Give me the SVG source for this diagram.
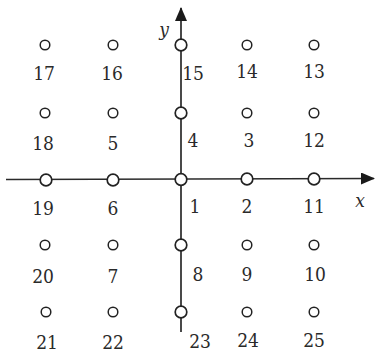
<svg xmlns="http://www.w3.org/2000/svg" width="375" height="353" viewBox="0 0 375 353">
<style>
.n circle{fill:#fff;stroke:#222;stroke-width:1.5}
.n .a{stroke-width:1.7}
.c line{stroke:#2a2a2a;stroke-width:1.7}
</style>
<defs>
<marker id="ar" viewBox="0 0 14 12" refX="13" refY="6" markerWidth="14" markerHeight="12" markerUnits="userSpaceOnUse" orient="auto">
<path d="M0,0 L14,6 L0,12 Z" fill="#1a1a1a"/>
</marker>
</defs>
<g id="connectors" class="c">
<line x1="6" y1="179.5" x2="374" y2="178.5" marker-end="url(#ar)"/>
<line x1="181" y1="332" x2="181" y2="8" marker-end="url(#ar)"/>
</g>
<g font-family="'DejaVu Serif Condensed', 'DejaVu Serif', serif" font-size="19" fill="#2a2a2a" text-anchor="middle">
<text font-style="italic" x="164" y="36">y</text>
<text font-style="italic" x="360" y="207">x</text>
<g id="n17" class="n"><circle cx="45" cy="45" r="4.8"/><text x="44" y="80">17</text></g>
<g id="n16" class="n"><circle cx="113" cy="45" r="4.8"/><text x="112" y="80">16</text></g>
<g id="n15" class="n"><circle class="a" cx="181" cy="45" r="5.8"/><text x="193" y="80">15</text></g>
<g id="n14" class="n"><circle cx="247" cy="45" r="4.8"/><text x="247" y="78">14</text></g>
<g id="n13" class="n"><circle cx="314" cy="45" r="4.8"/><text x="314" y="78">13</text></g>
<g id="n18" class="n"><circle cx="45" cy="113" r="4.8"/><text x="43" y="150">18</text></g>
<g id="n5" class="n"><circle cx="113" cy="113" r="4.8"/><text x="113" y="150">5</text></g>
<g id="n4" class="n"><circle class="a" cx="181" cy="113" r="5.8"/><text x="193" y="147">4</text></g>
<g id="n3" class="n"><circle cx="247" cy="113" r="4.8"/><text x="249" y="147">3</text></g>
<g id="n12" class="n"><circle cx="314" cy="113" r="4.8"/><text x="314" y="147">12</text></g>
<g id="n19" class="n"><circle class="a" cx="46" cy="180" r="5.8"/><text x="43" y="215">19</text></g>
<g id="n6" class="n"><circle class="a" cx="113" cy="180" r="5.8"/><text x="113" y="215">6</text></g>
<g id="n1" class="n"><circle class="a" cx="181" cy="179.5" r="5.8"/><text x="195" y="213">1</text></g>
<g id="n2" class="n"><circle class="a" cx="247" cy="179" r="5.8"/><text x="247" y="213">2</text></g>
<g id="n11" class="n"><circle class="a" cx="314" cy="179" r="5.8"/><text x="314" y="213">11</text></g>
<g id="n20" class="n"><circle cx="45" cy="245" r="4.8"/><text x="43" y="283">20</text></g>
<g id="n7" class="n"><circle cx="113" cy="245" r="4.8"/><text x="113" y="283">7</text></g>
<g id="n8" class="n"><circle class="a" cx="181" cy="245" r="5.8"/><text x="198" y="281">8</text></g>
<g id="n9" class="n"><circle cx="247" cy="245" r="4.8"/><text x="247" y="281">9</text></g>
<g id="n10" class="n"><circle cx="314" cy="245" r="4.8"/><text x="315" y="281">10</text></g>
<g id="n21" class="n"><circle cx="46" cy="312" r="4.8"/><text x="47" y="349">21</text></g>
<g id="n22" class="n"><circle cx="113" cy="312" r="4.8"/><text x="113" y="349">22</text></g>
<g id="n23" class="n"><circle class="a" cx="181" cy="312" r="5.8"/><text x="200" y="348">23</text></g>
<g id="n24" class="n"><circle cx="247" cy="312" r="4.8"/><text x="248" y="347">24</text></g>
<g id="n25" class="n"><circle cx="314" cy="312" r="4.8"/><text x="314" y="347">25</text></g>
</g>
</svg>
